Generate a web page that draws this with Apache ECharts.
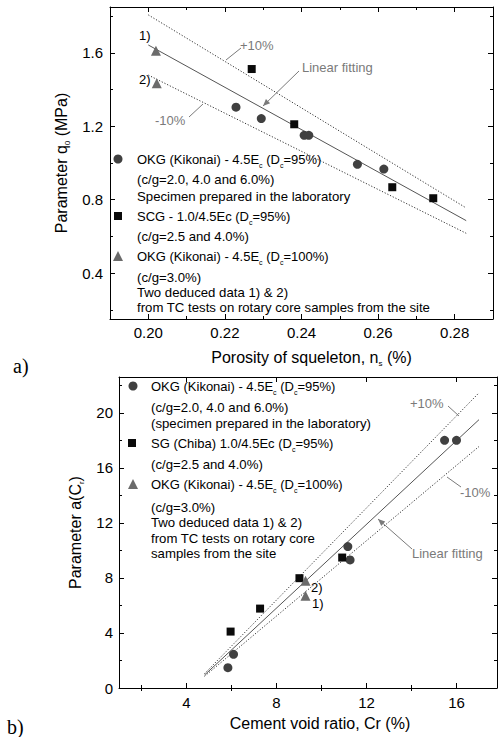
<!DOCTYPE html>
<html><head><meta charset="utf-8">
<script src="https://cdn.jsdelivr.net/npm/echarts@6/dist/echarts.min.js"></script>
<style>html,body{margin:0;padding:0;background:#fff}#c{width:500px;height:737px}</style>
</head><body><div id="c"></div>
<script>
// ---------- data: chart a) ----------
const topXMajor = [0.20, 0.22, 0.24, 0.26, 0.28];
const topXMinor = [0.21, 0.23, 0.25, 0.27];
const topYMajor = [0.4, 0.8, 1.2, 1.6];
const topYMinor = [0.2, 0.6, 1.0, 1.4, 1.8];
const topCircles = [[0.2229, 1.304], [0.2295, 1.242], [0.2407, 1.151], [0.2419, 1.151], [0.2546, 0.993], [0.2615, 0.967]];
const topSquares = [[0.2270, 1.512], [0.2381, 1.211], [0.2637, 0.868], [0.2744, 0.808]];
const topTriangles = [[0.2020, 1.612], [0.2022, 1.434]];
const topFitX = [0.200, 0.283];
const topFit = [1.643, 0.686];
const topUpper = [1.807, 0.755];
const topLower = [1.479, 0.617];

// ---------- data: chart b) ----------
const botXMajor = [4, 8, 12, 16];
const botXMinor = [2, 6, 10, 14];
const botYMajor = [0, 4, 8, 12, 16, 20];
const botYMinor = [2, 6, 10, 14, 18, 22];
const botCircles = [[15.47, 18.0], [16.0, 18.0], [11.17, 10.28], [11.27, 9.31], [6.09, 2.45], [5.84, 1.48]];
const botSquares = [[9.02, 7.98], [10.92, 9.48], [7.27, 5.77], [5.96, 4.10]];
const botTriangles = [[9.29, 6.71], [9.29, 7.80]];
const botFitX = [4.8, 17.0];
const botFit = [0.94, 19.5];
const botUpper = [1.04, 21.45];
const botLower = [0.85, 17.55];

// ---------- rendering ----------
const FONT = '"Liberation Sans", Arial, sans-serif';
const LEGFS = 13;
const chart = echarts.init(document.getElementById('c'), null, {renderer: 'svg'});
const subRich = {
  s: {fontSize: 8, fontFamily: FONT, color: '#000', verticalAlign: 'bottom', lineHeight: 20}
};
const toPairs = (xs, ys) => xs.map((x, i) => [x, ys[i]]);

function xAx(grid, min, max, pos, ticks, len, extra) {
  return Object.assign({
    gridIndex: grid, type: 'value', min: min, max: max, position: pos,
    axisLine: {show: true, onZero: false, lineStyle: {color: '#000', width: 1}},
    axisTick: {show: true, inside: true, length: len, customValues: ticks, lineStyle: {color: '#000', width: 1}},
    axisLabel: {show: false},
    splitLine: {show: false}
  }, extra || {});
}
const yAx = xAx;

const labelStyle = (vals, fmt, margin) => ({
  show: true, customValues: vals, formatter: fmt, fontSize: 15, color: '#000', fontFamily: FONT, margin: margin
});

const names = {
  tc: 'OKG (Kikonai) - 4.5E{s|c} (D{s|c}=95%)',
  ts: 'SCG - 1.0/4.5Ec (D{s|c}=95%)',
  tt: 'OKG (Kikonai) - 4.5E{s|c} (D{s|c}=100%)',
  bc: 'OKG (Kikonai) - 4.5E{s|c} (D{s|c}=95%)',
  bs: 'SG (Chiba) 1.0/4.5Ec (D{s|c}=95%)',
  bt: 'OKG (Kikonai) - 4.5E{s|c} (D{s|c}=100%)'
};

const grids = [
  {left: 110, top: 7, width: 383, height: 312},
  {left: 110, top: 7, width: 383, height: 312},
  {left: 119, top: 377, width: 378, height: 311},
  {left: 119, top: 377, width: 378, height: 311}
];

const xAxes = [
  xAx(0, 0.19, 0.29, 'bottom', topXMajor, 5, {
    axisLabel: labelStyle(topXMajor, v => v.toFixed(2), 6),
    name: 'Porosity of squeleton, n{s|s} (%)', nameLocation: 'middle', nameGap: 28,
    nameTextStyle: {fontSize: 16, color: '#000', fontFamily: FONT, padding: [0, 0, 0, 20], rich: subRich}
  }),
  xAx(0, 0.19, 0.29, 'top', topXMajor, 5),
  xAx(1, 0.19, 0.29, 'bottom', topXMinor, 3, {axisLine: {show: false}}),
  xAx(1, 0.19, 0.29, 'top', topXMinor, 3, {axisLine: {show: false}}),
  xAx(2, 1, 17.8, 'bottom', botXMajor, 5, {
    axisLabel: labelStyle(botXMajor, v => String(v), 7),
    name: 'Cement void ratio, Cr (%)', nameLocation: 'middle', nameGap: 27,
    nameTextStyle: {fontSize: 16, color: '#000', fontFamily: FONT, padding: [0, 0, 0, 24]}
  }),
  xAx(2, 1, 17.8, 'top', botXMajor, 5),
  xAx(3, 1, 17.8, 'bottom', botXMinor, 3, {axisLine: {show: false}}),
  xAx(3, 1, 17.8, 'top', botXMinor, 3, {axisLine: {show: false}})
];

const yAxes = [
  yAx(0, 0.15, 1.85, 'left', topYMajor, 5, {
    axisLabel: labelStyle(topYMajor, v => v.toFixed(1), 7),
    name: 'Parameter q{s|0} (MPa)', nameLocation: 'middle', nameGap: 38,
    nameTextStyle: {fontSize: 16, color: '#000', fontFamily: FONT, rich: subRich}
  }),
  yAx(0, 0.15, 1.85, 'right', topYMajor, 5),
  yAx(1, 0.15, 1.85, 'left', topYMinor, 3, {axisLine: {show: false}}),
  yAx(1, 0.15, 1.85, 'right', topYMinor, 3, {axisLine: {show: false}}),
  yAx(2, 0, 22.6, 'left', botYMajor, 5, {
    axisLabel: labelStyle(botYMajor, v => String(v), 6),
    name: 'Parameter a(C{s|r})', nameLocation: 'middle', nameGap: 34,
    nameTextStyle: {fontSize: 16, color: '#000', fontFamily: FONT, rich: subRich}
  }),
  yAx(2, 0, 22.6, 'right', botYMajor, 5),
  yAx(3, 0, 22.6, 'left', botYMinor, 3, {axisLine: {show: false}}),
  yAx(3, 0, 22.6, 'right', botYMinor, 3, {axisLine: {show: false}})
];

function lineSeries(ax, xs, ys, type, color) {
  return {
    type: 'line', xAxisIndex: ax, yAxisIndex: ax, data: toPairs(xs, ys),
    symbol: 'none', silent: true, z: 2, animation: false,
    lineStyle: {color: color, width: 1, type: type}
  };
}
function scat(ax, name, data, symbol, size, color) {
  return {type: 'scatter', name: name, xAxisIndex: ax, yAxisIndex: ax, data: data,
    symbol: symbol, symbolSize: size, itemStyle: {color: color, opacity: 1}, z: 5, animation: false};
}

const series = [
  lineSeries(0, topFitX, topUpper, [1.2, 1.8], '#333'),
  lineSeries(0, topFitX, topLower, [1.2, 1.8], '#333'),
  lineSeries(0, topFitX, topFit, 'solid', '#555'),
  scat(0, 'tc', topCircles, 'circle', 9, '#404040'),
  scat(0, 'ts', topSquares, 'rect', 8, '#0a0a0a'),
  scat(0, 'tt', topTriangles, 'triangle', 10, '#6b6b6b'),
  lineSeries(4, botFitX, botUpper, [1.2, 1.8], '#333'),
  lineSeries(4, botFitX, botLower, [1.2, 1.8], '#333'),
  lineSeries(4, botFitX, botFit, 'solid', '#555'),
  scat(4, 'bc', botCircles, 'circle', 9, '#404040'),
  scat(4, 'bs', botSquares, 'rect', 8, '#0a0a0a'),
  scat(4, 'bt', botTriangles, 'triangle', 10, '#6b6b6b')
];

// legend entry: icon centred at cx, text starting at tx, row centred at yc
function leg(name, cx, tx, yc, h) {
  const left = cx - h / 2;
  const pad = tx - (left + h + 5);
  return {
    data: [name], left: left, top: yc - 10, orient: 'vertical', itemWidth: h, itemHeight: h,
    selectedMode: false, padding: 0,
    formatter: n => names[n],
    textStyle: {fontSize: LEGFS, color: '#000', fontFamily: FONT, lineHeight: 20, padding: [0, 0, 0, pad],
      rich: {s: {fontSize: 7, fontFamily: FONT, color: '#000', verticalAlign: 'bottom', lineHeight: 20}}}
  };
}
const legends = [
  leg('tc', 118, 137, 159, 9), leg('ts', 118, 137, 216, 8), leg('tt', 118, 137, 256, 10),
  leg('bc', 133, 151, 386, 9), leg('bs', 132, 151, 443, 8), leg('bt', 133, 151, 484, 10)
];

const extraLines = [
  ['(c/g=2.0, 4.0 and 6.0%)', 137, 179],
  ['Specimen prepared in the laboratory', 137, 196],
  ['(c/g=2.5 and 4.0%)', 137, 236],
  ['(c/g=3.0%)', 137, 277],
  ['Two deduced data 1) & 2)', 137, 292],
  ['from TC tests on rotary core samples from the site', 137, 307],
  ['(c/g=2.0, 4.0 and 6.0%)', 151, 407],
  ['(specimen prepared in the laboratory)', 151, 423],
  ['(c/g=2.5 and 4.0%)', 151, 464],
  ['(c/g=3.0%)', 151, 507],
  ['Two deduced data 1) & 2)', 151, 522],
  ['from TC tests on rotary core', 151, 538],
  ['samples from the site', 151, 553]
];

const graphic = [];
function txt(t, x, y, size, fill, family, align) {
  graphic.push({type: 'text', silent: true, style: {text: t, x: x, y: y, fill: fill,
    font: size + 'px ' + (family || FONT), verticalAlign: 'middle', align: align || 'left'}});
}
function seg(x1, y1, x2, y2, color) {
  graphic.push({type: 'line', silent: true, shape: {x1: x1, y1: y1, x2: x2, y2: y2}, style: {stroke: color, lineWidth: 1}});
}
function arrow(x1, y1, x2, y2, color) {
  seg(x1, y1, x2, y2, color);
  const dx = x2 - x1, dy = y2 - y1, L = Math.hypot(dx, dy), ux = dx / L, uy = dy / L;
  const bx = x2 - 7 * ux, by = y2 - 7 * uy, px = -uy * 3, py = ux * 3;
  graphic.push({type: 'polygon', silent: true, shape: {points: [[x2, y2], [bx + px, by + py], [bx - px, by - py]]}, style: {fill: color}});
}
extraLines.forEach(l => txt(l[0], l[1], l[2], LEGFS + 0.2, '#000'));

const GRAY = '#7a7a7a';
// chart a) annotations
txt('1)', 139, 35, 13, '#000');
txt('2)', 139, 79, 13, '#000');
txt('+10%', 240, 45, 13, GRAY);
seg(241, 48, 226, 60, GRAY);
txt('Linear fitting', 302, 67, 13, GRAY);
arrow(299, 71, 263, 106, GRAY);
txt('-10%', 155, 120, 13, GRAY);
seg(189, 117, 203, 104, GRAY);
txt('a)', 13, 366, 20, '#000', '"Liberation Serif", serif');
// chart b) annotations
txt('+10%', 410, 403, 13, GRAY);
seg(448, 406, 459, 416, GRAY);
txt('-10%', 460, 492, 13, GRAY);
seg(461, 487, 447, 477, GRAY);
txt('Linear fitting', 412, 553, 13, GRAY);
arrow(412, 549, 378, 519, GRAY);
txt('2)', 311, 587, 13, '#000');
txt('1)', 312, 603, 13, '#000');
txt('b)', 7, 727, 20, '#000', '"Liberation Serif", serif');

chart.setOption({
  animation: false,
  backgroundColor: '#fff',
  textStyle: {fontFamily: FONT},
  grid: grids,
  xAxis: xAxes,
  yAxis: yAxes,
  legend: legends,
  series: series,
  graphic: graphic
});
</script>
</body></html>
